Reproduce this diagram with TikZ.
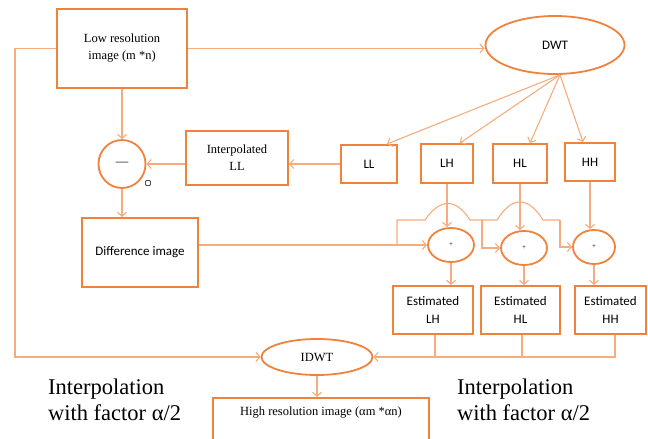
\documentclass[tikz,border=0pt]{standalone}
\usepackage{fontspec}
\setmainfont{Liberation Serif}
\newfontfamily\boxsans{Carlito}
\usetikzlibrary{arrows.meta, calc, shapes.geometric}
\definecolor{boxorange}{RGB}{240,130,60}
\definecolor{lineorange}{RGB}{246,172,124}
\newcommand\serifsmall{\fontsize{12.5}{17}\selectfont}
\newcommand\sanssmall{\boxsans\fontsize{13}{18}\selectfont}
\tikzset{
  box/.style={draw=boxorange, line width=2pt, align=center, inner sep=2pt, font=\serifsmall},
  sbox/.style={box, font=\sanssmall},
  oval/.style={draw=boxorange, line width=1.8pt, ellipse, inner sep=0pt, font=\sanssmall},
  arr/.style={-{Straight Barb[length=4pt, width=9pt]}, draw=lineorange, line width=1.1pt},
  ln/.style={draw=lineorange, line width=1.1pt},
  bigtext/.style={align=left, anchor=north west, font=\fontsize{22.5}{26}\selectfont},
}

\begin{document}
\begin{tikzpicture}[x=1pt, y=-1pt]
    \useasboundingbox (0,0) rectangle (648,439);
    \node[box, minimum width=130pt, minimum height=79pt] (lowres) at (122,48.5) {Low resolution\\image (m *n)};
    \node[oval, minimum width=139pt, minimum height=58pt] (dwt) at (555,45) {DWT};
    \node[sbox, minimum width=56pt, minimum height=38pt] (ll) at (369,164) {LL};
    \node[sbox, minimum width=52pt, minimum height=39pt] (lh) at (447,163.5) {LH};
    \node[sbox, minimum width=54pt, minimum height=39pt] (hl) at (520,163.5) {HL};
    \node[sbox, minimum width=50pt, minimum height=38pt] (hh) at (590,162) {HH};
    \node[box, minimum width=102pt, minimum height=54pt] (interp) at (237,158) {Interpolated\\LL};
    \node[oval, minimum width=47pt, minimum height=48pt, font=\serifsmall] (minus) at (122,164) {---};
    \node[draw=black!70, rounded corners=1pt, line width=0.8pt, minimum size=5pt, inner sep=0pt] (mark) at (148,183) {};
    \node[sbox, minimum width=116pt, minimum height=69pt] (diff) at (140,252.5) {Difference image};
    \node[oval, minimum width=46pt, minimum height=34pt, font=\scriptsize] (plh) at (451,245) {+};
    \node[oval, minimum width=46pt, minimum height=34pt, font=\scriptsize] (phl) at (524,248) {+};
    \node[oval, minimum width=42pt, minimum height=34pt, font=\scriptsize] (phh) at (594,247) {+};
    \node[sbox, minimum width=80pt, minimum height=48pt] (elh) at (433,310) {Estimated\\LH};
    \node[sbox, minimum width=79pt, minimum height=48pt] (ehl) at (520.5,310) {Estimated\\HL};
    \node[sbox, minimum width=71pt, minimum height=48pt] (ehh) at (610.5,310) {Estimated\\HH};
    \node[oval, minimum width=111pt, minimum height=36pt, font=\serifsmall] (idwt) at (317,357) {IDWT};
    \node[box, minimum width=216pt, anchor=north, inner ysep=9pt, text depth=40pt] (hires) at (321,397) {High resolution image (αm *αn)};
    \node[bigtext] (notel) at (44.5,375) {Interpolation\\with factor α/2};
    \node[bigtext] (noter) at (453.5,375) {Interpolation\\with factor α/2};
    \draw[arr] (lowres.east) -- (lowres.east -| dwt.west);
    \draw[arr] (lowres.south) -- (minus.north);
    \draw[arr] (minus.south) -- (minus.south |- diff.north);
    \foreach \n/\dx in {ll/18, lh/13, hl/10, hh/-7}
      \draw[arr] ([xshift=5pt]dwt.south) -- ([xshift=\dx pt]\n.north);
    \draw[arr] (ll.west) -- (ll.west -| interp.east);
    \draw[arr] (interp.west |- minus.east) -- (minus.east);
    \foreach \a/\b in {lh/plh, hl/phl, hh/phh}
      \draw[arr] (\a.south) -- (\a.south |- \b.north);
    \foreach \a/\b in {plh/elh, phl/ehl, phh/ehh}
      \draw[arr] (\a.south) -- (\a.south |- \b.north);
    \draw[arr] (diff.east |- plh.west) -- (plh.west);
    \coordinate (split) at (397,245);
    \coordinate (hop1) at (425,220);
    \coordinate (hop1e) at (470,220);
    \coordinate (tap2) at (482,220);
    \coordinate (hop2) at (497,220);
    \coordinate (hop2e) at (543,220);
    \coordinate (tap3) at (560,220);
    \draw[ln] (split) |- (hop1) .. controls (440,198) and (456,198) .. (hop1e) -- (hop2)
      .. controls (512,196) and (528,196) .. (hop2e) -- (tap3);
    \draw[arr] (tap2) |- (phl.west);
    \draw[arr] (tap3) |- (phh.west);
    \draw[arr] ([xshift=4.5pt]ehh.south) |- (idwt.east);
    \draw[ln] ([xshift=2pt]elh.south) -- ([xshift=2pt]elh.south |- idwt.east);
    \draw[ln] ([xshift=1.5pt]ehl.south) -- ([xshift=1.5pt]ehl.south |- idwt.east);
    \draw[arr] (lowres.west) -- ++(-41,0) |- (idwt.west);
    \draw[arr] (idwt.south) -- (idwt.south |- hires.north);
\end{tikzpicture}
\end{document}
